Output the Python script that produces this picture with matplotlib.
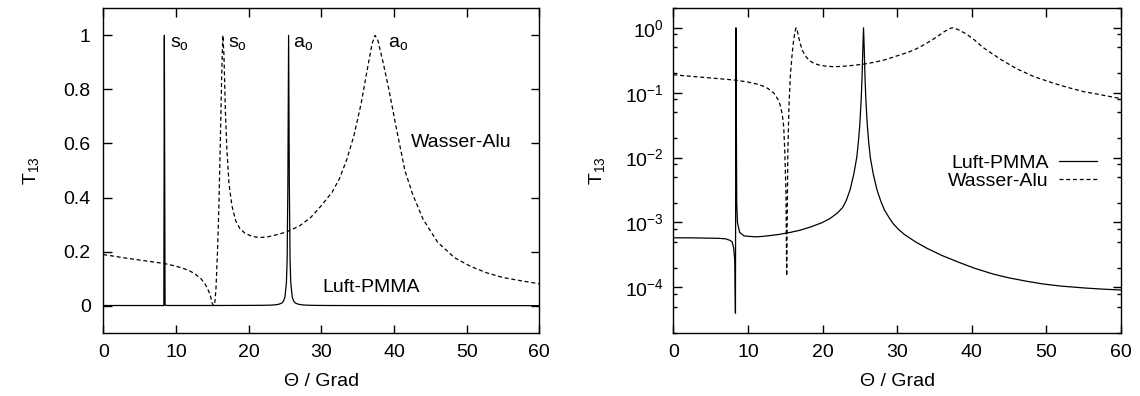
import matplotlib
matplotlib.use("Agg")
import matplotlib.pyplot as plt
from matplotlib.ticker import FixedLocator, FixedFormatter, LogLocator, LogFormatterSciNotation, NullFormatter

plt.rcParams['font.family'] = ['Liberation Sans', 'DejaVu Sans']
plt.rcParams['mathtext.fontset'] = 'custom'
plt.rcParams['mathtext.rm'] = 'Liberation Sans'
plt.rcParams['mathtext.it'] = 'Liberation Sans'
plt.rcParams['mathtext.default'] = 'regular'
plt.rcParams['font.size'] = 14

# Transmission coefficient T13 versus angle of incidence (degrees)
theta_pmma = [0, 2, 4, 6, 7, 7.6, 7.9, 8.1, 8.25, 8.33, 8.4, 8.5, 8.6, 8.9, 9.5,
              11, 12, 14, 15.6, 17, 18.5, 20.0, 21.0, 22.0, 22.7, 23.2, 23.7,
              24.2, 24.6, 24.8, 25.0, 25.2, 25.3, 25.4, 25.5, 25.6, 25.7, 25.8,
              26.0, 26.2, 26.4, 26.8, 27.3, 27.8, 28.3, 29.0, 29.5, 30.2, 31,
              32.5, 34, 36, 38.4, 40.5, 42.9, 45, 47.4, 49.5, 51.8, 55, 57.5, 60]
t_pmma = [5.8e-4, 5.8e-4, 5.75e-4, 5.7e-4, 5.6e-4, 5.3e-4, 5.0e-4, 4.0e-4, 2.5e-4,
          4e-5, 1.0, 2e-3, 1.0e-3, 7e-4, 6.2e-4, 6.0e-4, 6.1e-4, 6.5e-4, 7.0e-4,
          7.6e-4, 8.6e-4, 1.0e-3, 1.15e-3, 1.4e-3, 1.7e-3, 2.2e-3, 3.2e-3, 5.6e-3,
          1.02e-2, 0.017, 0.032, 0.085, 0.17, 0.45, 1.0, 0.45, 0.17, 0.085, 0.032,
          0.017, 1.02e-2, 5.6e-3, 3.2e-3, 2.15e-3, 1.56e-3, 1.15e-3, 9.5e-4, 7.8e-4,
          6.5e-4, 5.0e-4, 4.0e-4, 3.1e-4, 2.4e-4, 1.95e-4, 1.6e-4, 1.4e-4, 1.24e-4,
          1.13e-4, 1.05e-4, 9.8e-5, 9.4e-5, 9.1e-5]

theta_wa = [0, 3.35, 6, 8.4, 10, 11, 12, 12.7, 13.5, 14.0, 14.3, 14.6, 14.8, 14.95,
            15.1, 15.2, 15.35, 15.5, 15.7, 15.9, 16.1, 16.3, 16.45, 16.6, 16.8,
            17.0, 17.3, 17.7, 18.2, 18.8, 19.5, 20.5, 21.5, 22.5, 23.5, 24.5, 25.5,
            27, 28.5, 30, 31.5, 32.5, 33.5, 34.5, 35.5, 36.3, 37.0, 37.4, 37.8,
            38.5, 39.3, 40.3, 41.5, 42.6, 44, 46, 48.3, 50.5, 52.7, 55, 57.5, 60]
t_wa = [0.189, 0.175, 0.165, 0.156, 0.146, 0.138, 0.127, 0.116, 0.098, 0.08, 0.066,
        0.047, 0.03, 0.012, 0.003, 1.5e-4, 0.012, 0.06, 0.19, 0.36, 0.6, 0.86, 1.0,
        0.93, 0.72, 0.58, 0.45, 0.37, 0.315, 0.285, 0.268, 0.256, 0.252, 0.254,
        0.26, 0.267, 0.276, 0.295, 0.325, 0.37, 0.42, 0.47, 0.54, 0.63, 0.75,
        0.87, 0.97, 1.0, 0.98, 0.9, 0.8, 0.66, 0.5, 0.41, 0.32, 0.235, 0.178,
        0.146, 0.122, 0.104, 0.092, 0.081]

series_names = ["Luft-PMMA", "Wasser-Alu"]
x_ticks = [0, 10, 20, 30, 40, 50, 60]
lin_ticks = [0, 0.2, 0.4, 0.6, 0.8, 1.0]
lin_tick_labels = ["0", "0.2", "0.4", "0.6", "0.8", "1"]
mode_labels = ["s$_o$", "s$_o$", "a$_o$", "a$_o$"]
mode_label_theta = [9.2, 17.1, 26.1, 39.2]

fig = plt.figure(figsize=(11.4, 3.96), dpi=100)
ax1 = fig.add_axes([103.3 / 1140, 1 - 332.7 / 396, 436.0 / 1140, 324.4 / 396])
ax2 = fig.add_axes([673.3 / 1140, 1 - 332.7 / 396, 447.6 / 1140, 324.4 / 396])

dash = (3.2, 2.2)
for ax in (ax1, ax2):
    ax.plot(theta_pmma, t_pmma, color='black', lw=0.9, label=series_names[0])
    ax.plot(theta_wa, t_wa, color='black', lw=0.9, dashes=dash, label=series_names[1])
    ax.set_xlim(0, 60)
    ax.xaxis.set_major_locator(FixedLocator(x_ticks))
    ax.tick_params(which='both', direction='in', top=True, right=True, width=1.0)
    ax.tick_params(which='major', length=8.5 * 72 / 100)
    ax.tick_params(which='minor', length=4.3 * 72 / 100)
    ax.tick_params(axis='x', pad=8)
    ax.set_xlabel("\u0398 / Grad", labelpad=9)
    for s in ax.spines.values():
        s.set_linewidth(1.0)

# linear panel
ax1.set_ylim(-0.1, 1.1)
ax1.yaxis.set_major_locator(FixedLocator(lin_ticks))
ax1.yaxis.set_major_formatter(FixedFormatter(lin_tick_labels))
ax1.tick_params(axis='y', pad=9)
ax1.set_ylabel("T$_{13}$", labelpad=16)
for lab, th in zip(mode_labels, mode_label_theta):
    ax1.text(th, 0.958, lab, ha='left', va='baseline')
ax1.text(42.3, 0.605, series_names[1], ha='left', va='center')
ax1.text(30.2, 0.067, series_names[0], ha='left', va='center')

# logarithmic panel
ax2.set_yscale('log')
ax2.set_ylim(2e-5, 2)
ax2.yaxis.set_major_locator(LogLocator(base=10, subs=(1.0,), numticks=20))
ax2.yaxis.set_major_formatter(LogFormatterSciNotation())
ax2.yaxis.set_minor_locator(LogLocator(base=10, subs=(2.0, 5.0, 8.0), numticks=20))
ax2.yaxis.set_minor_formatter(NullFormatter())
ax2.tick_params(axis='y', pad=7)
ax2.set_ylabel("T$_{13}$", labelpad=13)
leg = ax2.legend(loc='center right', bbox_to_anchor=(0.947, 0.495), frameon=False,
                 markerfirst=False, handlelength=1.95, handletextpad=0.55,
                 labelspacing=0.0, borderpad=0, borderaxespad=0)

fig.savefig("out.png", dpi=100, facecolor='white')
